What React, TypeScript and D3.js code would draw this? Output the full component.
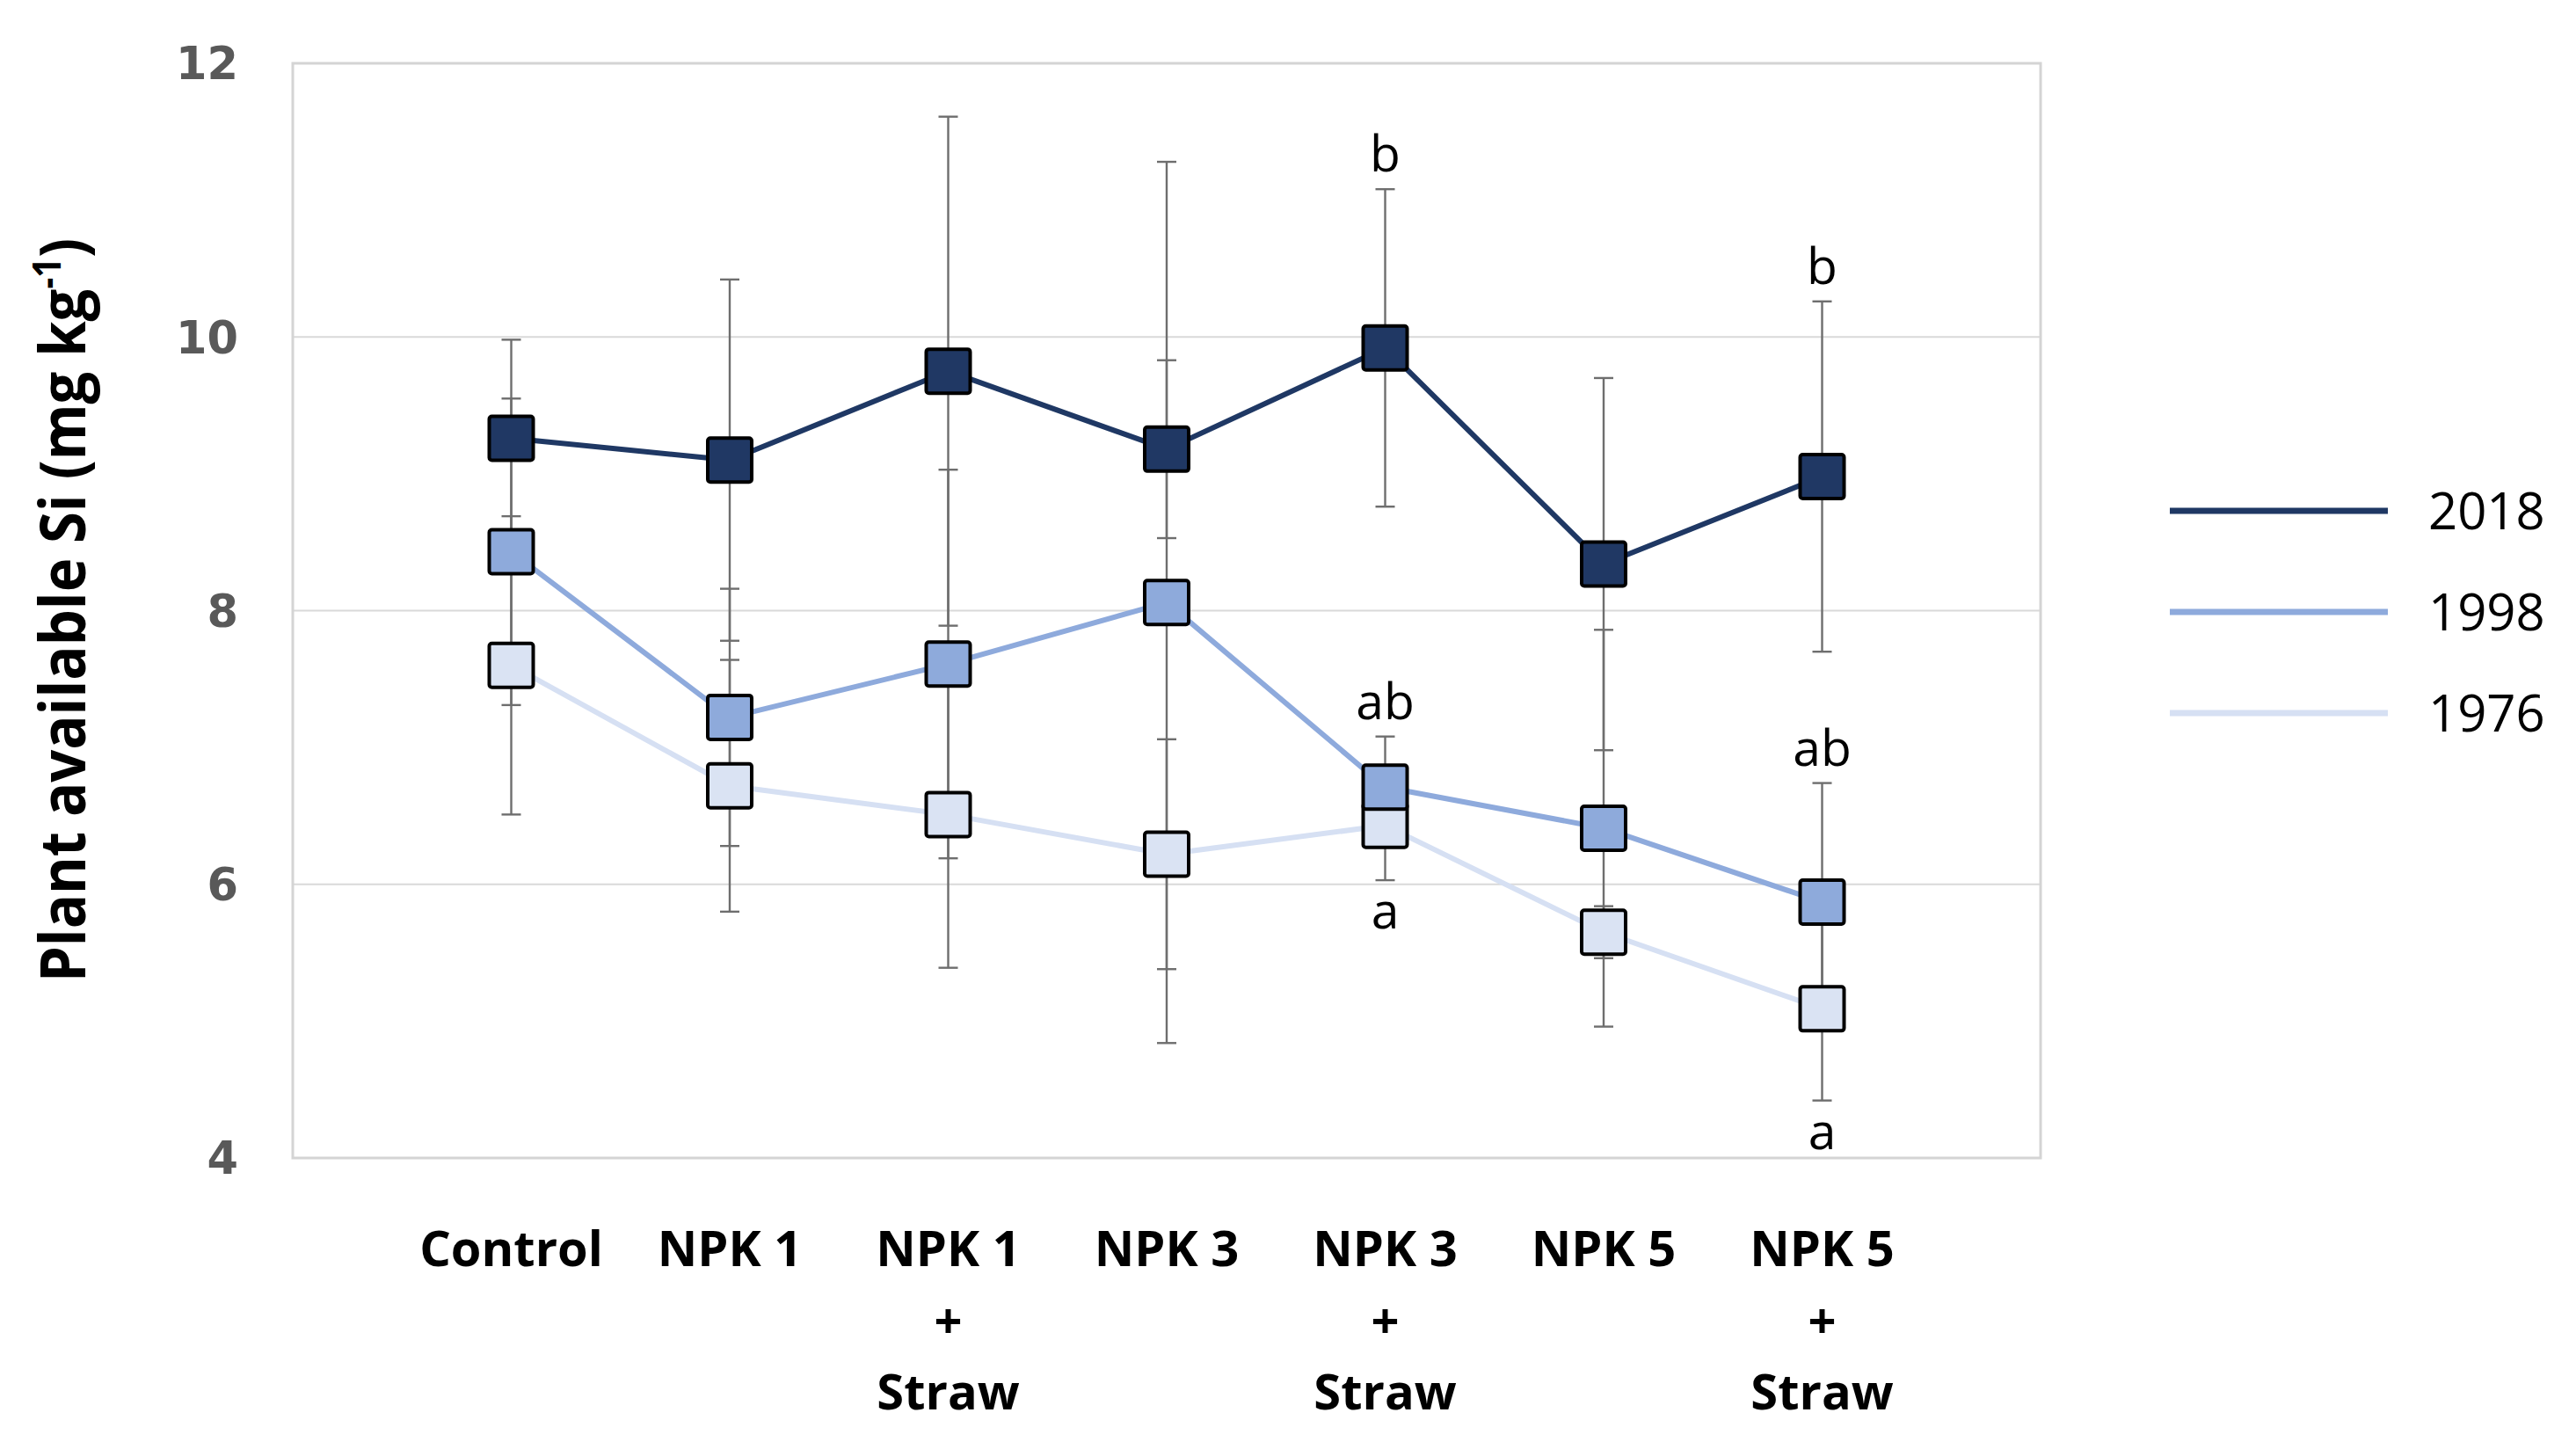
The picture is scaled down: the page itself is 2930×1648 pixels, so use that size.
import React from "react";
import * as d3 from "d3";

const categories = ["Control", "NPK 1", "NPK 1 + Straw", "NPK 3", "NPK 3 + Straw", "NPK 5", "NPK 5 + Straw"];
const seriesNames = ["1976", "1998", "2018"];
const mean1976 = [7.6, 6.72, 6.51, 6.22, 6.43, 5.65, 5.09];
const sd1976 = [1.09, 0.92, 1.12, 0.84, 0.4, 0.19, 0.67];
const mean1998 = [8.43, 7.22, 7.61, 8.06, 6.71, 6.41, 5.87];
const sd1998 = [1.12, 0.94, 1.42, 3.22, 0.37, 1.45, 0.87];
const mean2018 = [9.26, 9.1, 9.75, 9.18, 9.92, 8.34, 8.98];
const sd2018 = [0.72, 1.32, 1.86, 0.65, 1.16, 1.36, 1.28];
const yTicks = [4, 6, 8, 10, 12];
const legendOrder = ["2018", "1998", "1976"];
const letterLabels = [
  { cat: "NPK 3 + Straw", series: "2018", text: "b", side: "above" },
  { cat: "NPK 5 + Straw", series: "2018", text: "b", side: "above" },
  { cat: "NPK 3 + Straw", series: "1998", text: "ab", side: "above" },
  { cat: "NPK 5 + Straw", series: "1998", text: "ab", side: "above" },
  { cat: "NPK 3 + Straw", series: "1976", text: "a", side: "below" },
  { cat: "NPK 5 + Straw", series: "1976", text: "a", side: "below" },
];

const seriesData: Record<string, { mean: number[]; sd: number[] }> = {
  "1976": { mean: mean1976, sd: sd1976 },
  "1998": { mean: mean1998, sd: sd1998 },
  "2018": { mean: mean2018, sd: sd2018 },
};
const lineColor: Record<string, string> = { "2018": "#1f3864", "1998": "#8eaadc", "1976": "#d6e0f3" };
const fillColor: Record<string, string> = { "2018": "#203864", "1998": "#8eaadb", "1976": "#dae3f3" };

export default function App() {
  const W = 2930, H = 1648;
  const left = 333, right = 2321, top = 72, bottom = 1317;
  const x = d3.scalePoint<string>().domain(categories).range([left, right]).padding(1);
  const y = d3.scaleLinear().domain([4, 12]).range([bottom, top]);
  const line = d3.line<number>().x((_, i) => x(categories[i]) as number).y((d) => y(d));
  const ms = 50;
  const cap = 11;
  const labelFont = "'Open Sans', 'Liberation Sans', sans-serif";

  return (
    <svg width={W} height={H} style={{ position: "absolute", left: 0, top: 0, display: "block", background: "#fff" }}>
      <rect x={0} y={0} width={W} height={H} fill="#fff" />
      {yTicks.filter((t) => t !== 4 && t !== 12).map((t) => (
        <line key={"g" + t} x1={left} x2={right} y1={y(t)} y2={y(t)} stroke="#d9d9d9" strokeWidth={2} />
      ))}
      <rect x={left} y={top} width={right - left} height={bottom - top} fill="none" stroke="#d4d4d4" strokeWidth={3} />
      {yTicks.map((t) => (
        <text key={"t" + t} x={271} y={y(t)} dy="0.36em" textAnchor="end" fontFamily="'DejaVu Sans', Verdana, sans-serif" fontWeight="bold" fontSize={51} fill="#595959">
          {t}
        </text>
      ))}
      <g transform={`translate(97, 694) rotate(-90)`}>
        <text textAnchor="middle" fontFamily={labelFont} fontWeight="bold" fontSize={72} fill="#000" textLength={846} lengthAdjust="spacingAndGlyphs">
          Plant available Si (mg kg
          <tspan fontSize={44} dy={-28}>-1</tspan>
          <tspan dy={28}>)</tspan>
        </text>
      </g>
      {categories.map((c) => {
        const parts = c.includes(" + ") ? [c.split(" + ")[0], "+", c.split(" + ")[1]] : [c];
        return (
          <text key={"x" + c} textAnchor="middle" fontFamily={labelFont} fontWeight="bold" fontSize={56} fill="#000">
            {parts.map((p, i) => (
              <tspan key={i} x={x(c) as number} y={1440 + i * 81.5}>{p}</tspan>
            ))}
          </text>
        );
      })}
      {seriesNames.map((s) =>
        seriesData[s].mean.map((m, i) => {
          const cx = x(categories[i]) as number;
          const hi = y(m + seriesData[s].sd[i]);
          const lo = y(m - seriesData[s].sd[i]);
          return (
            <g key={"e" + s + i} stroke="#6e6e6e" strokeWidth={2.4}>
              <line x1={cx} x2={cx} y1={hi} y2={lo} />
              <line x1={cx - cap} x2={cx + cap} y1={hi} y2={hi} />
              <line x1={cx - cap} x2={cx + cap} y1={lo} y2={lo} />
            </g>
          );
        })
      )}
      {seriesNames.map((s) => (
        <g key={"s" + s}>
          <path d={line(seriesData[s].mean) as string} fill="none" stroke={lineColor[s]} strokeWidth={6} strokeLinejoin="round" />
          {seriesData[s].mean.map((m, i) => (
            <rect key={i} x={(x(categories[i]) as number) - ms / 2} y={y(m) - ms / 2} width={ms} height={ms} rx={3} fill={fillColor[s]} stroke="#000" strokeWidth={4} />
          ))}
        </g>
      ))}
      {letterLabels.map((l, k) => {
        const i = categories.indexOf(l.cat);
        const m = seriesData[l.series].mean[i];
        const sd = seriesData[l.series].sd[i];
        const yy = l.side === "above" ? y(m + sd) - 20 : y(m - sd) + 55;
        return (
          <text key={"l" + k} x={x(l.cat) as number} y={yy} textAnchor="middle" fontFamily={labelFont} fontSize={57} fill="#000">
            {l.text}
          </text>
        );
      })}
      {legendOrder.map((s, i) => {
        const ly = 581 + i * 115;
        return (
          <g key={"lg" + s}>
            <line x1={2468} x2={2716} y1={ly} y2={ly} stroke={lineColor[s]} strokeWidth={7} />
            <text x={2762} y={ly} dy="0.36em" fontFamily={labelFont} fontSize={58} fill="#000">{s}</text>
          </g>
        );
      })}
    </svg>
  );
}
